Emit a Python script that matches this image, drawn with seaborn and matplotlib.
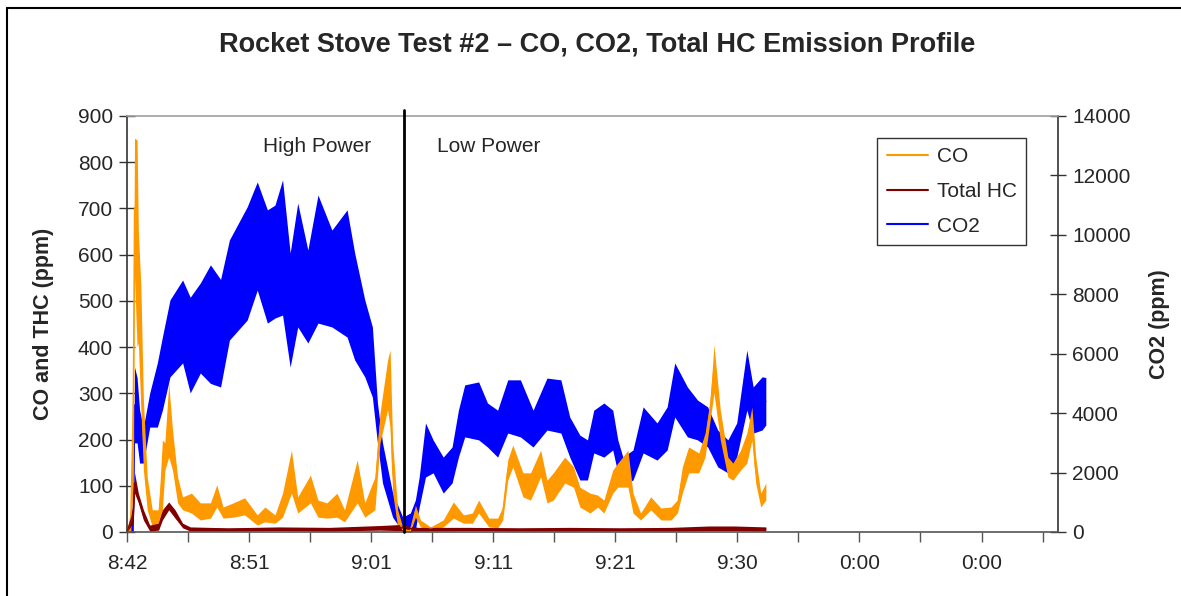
import numpy as np
import pandas as pd
import matplotlib
matplotlib.use('Agg')
import matplotlib.pyplot as plt
from matplotlib.lines import Line2D
import seaborn as sns

# time in minutes after 8:42, envelope (low / high) of each trace
co2_t = [0, 0.3, 0.5, 0.6, 0.8, 1.0, 1.3, 1.8, 2.4, 2.8, 3.4, 4.4, 5.0, 5.8, 6.6,
         7.4, 8.1, 9.5, 10.3, 11.1, 11.7, 12.3, 12.9, 13.5, 14.3, 15.1, 16.2, 17.4, 18.0, 18.8,
         19.4, 19.8, 20.2, 21.0, 21.8, 22.4, 22.8, 23.1, 23.6, 24.2, 25.0, 25.7, 26.2, 26.7, 27.8,
         28.5, 29.3, 30.1, 31.1, 32.1, 33.2, 34.3, 35.0, 35.8, 36.4, 36.9, 37.7, 38.4, 38.8, 39.2,
         40.0, 40.8, 41.9, 42.7, 43.3, 44.3, 45.1, 45.9, 46.7, 47.5, 48.2, 49.0, 49.5, 50.2, 50.5]
co2_hi = [0, 300, 1000, 5550, 5200, 4100, 3530, 4680, 5690, 6560, 7810, 8480, 7900, 8380, 8990,
          8500, 9830, 10940, 11780, 10840, 11000, 11850, 9390, 11070, 9490, 11340, 10160, 10840, 9390, 7810,
          6900, 4340, 3000, 1310, 500, 640, 1080, 1850, 3670, 3100, 2520, 2860, 4100, 4950, 5050,
          4340, 4100, 5120, 5120, 4100, 5180, 5120, 3870, 3260, 3100, 4100, 4340, 4100, 3100, 2520,
          2760, 4210, 3670, 4210, 5690, 4880, 4440, 4210, 3430, 3100, 3670, 6120, 4880, 5220, 5200]
co2_lo = [0, 0, 0, 3000, 3000, 2320, 2320, 3530, 3530, 4100, 5220, 5690, 4680, 5350, 5000,
          4880, 6460, 7130, 8140, 7030, 7200, 7300, 5550, 6900, 6360, 7030, 6900, 6560, 5790, 5220,
          4540, 3000, 1650, 500, 0, 0, 70, 840, 1850, 1990, 1310, 1650, 2520, 3200, 3100,
          2860, 2520, 3330, 3200, 2860, 3430, 3330, 2520, 1750, 1750, 2660, 2520, 2760, 1990, 1580,
          1750, 2660, 2420, 2760, 3870, 3200, 3100, 2860, 2190, 1990, 2520, 4100, 3330, 3430, 3600]

co_t = [0, 0.3, 0.5, 0.6, 0.8, 0.9, 1.1, 1.3, 1.6, 2.0, 2.5, 2.8, 3.0, 3.3, 3.6,
        4.0, 4.4, 5.1, 5.8, 6.6, 7.1, 7.6, 8.4, 9.3, 10.3, 10.9, 11.7, 12.3, 13.0, 13.5,
        14.5, 15.1, 15.8, 16.6, 17.2, 18.2, 18.8, 19.6, 20.0, 20.6, 20.8, 21.0, 21.4, 21.8, 22.4,
        22.8, 23.2, 24.0, 25.0, 25.8, 26.6, 27.3, 27.8, 28.6, 29.3, 29.7, 30.1, 30.5, 31.3, 31.9,
        32.7, 33.2, 33.7, 34.6, 35.3, 35.8, 36.6, 37.2, 37.7, 38.4, 38.8, 39.6, 40.0, 40.6, 41.4,
        42.2, 43.0, 43.5, 43.9, 44.4, 45.2, 45.7, 46.1, 46.4, 46.9, 47.5, 47.9, 48.5, 49.0, 49.4,
        49.7, 50.1, 50.5]
co_hi = [0, 50, 437, 852, 848, 653, 530, 286, 119, 48, 48, 199, 193, 322, 221,
         119, 76, 84, 63, 63, 102, 54, 63, 74, 37, 54, 37, 84, 177, 76,
         123, 69, 63, 84, 48, 156, 63, 119, 257, 372, 394, 193, 48, 10, 5,
         58, 26, 11, 26, 65, 37, 41, 69, 30, 30, 54, 156, 188, 128, 128,
         177, 112, 128, 162, 141, 97, 84, 80, 69, 134, 149, 177, 84, 41, 76,
         52, 54, 69, 141, 184, 171, 214, 286, 405, 264, 162, 149, 177, 214, 270,
         162, 84, 106]
co_lo = [0, 0, 100, 552, 400, 409, 264, 134, 48, 11, 11, 48, 134, 162, 134,
         63, 48, 41, 26, 30, 54, 30, 32, 37, 15, 22, 19, 32, 84, 41,
         63, 32, 30, 32, 22, 63, 32, 48, 193, 264, 227, 84, 11, 0, 0,
         32, 11, 4, 11, 30, 19, 19, 41, 11, 9, 26, 112, 141, 76, 69,
         119, 63, 69, 106, 97, 54, 41, 54, 41, 84, 97, 97, 41, 26, 48,
         26, 26, 41, 84, 128, 128, 162, 242, 301, 199, 119, 112, 134, 149, 199,
         106, 54, 69]

thc_t = [0, 0.5, 0.6, 0.9, 1.3, 1.8, 2.5, 2.8, 3.3, 3.8, 4.4, 5.0, 8.0, 12.0, 16.0,
         20.0, 21.5, 23.0, 27.0, 31.0, 35.0, 39.0, 43.0, 46.0, 48.0, 50.5]
thc_hi = [0, 60, 128, 84, 48, 15, 19, 48, 65, 48, 19, 11, 9, 11, 10,
          14, 16, 10, 10, 9, 10, 9, 10, 13, 13, 11]
thc_lo = [0, 20, 84, 63, 26, 2, 4, 26, 48, 30, 9, 2, 2, 3, 2,
          4, 3, 2, 3, 2, 2, 2, 2, 3, 3, 2]

tick_labels = ['8:42', '8:51', '9:01', '9:11', '9:21', '9:30', '0:00', '0:00']
tick_step = 9.65      # minutes between labelled ticks
x_max = 73.6
switch_t = 21.9       # high -> low power

colors = {'CO': '#FF9900', 'Total HC': '#800000', 'CO2': '#0000FF'}


def long_frame(name, t, lo, hi):
    return pd.concat([pd.DataFrame({'t': t, 'value': lo, 'series': name}),
                      pd.DataFrame({'t': t, 'value': hi, 'series': name})], ignore_index=True)


left_df = pd.concat([long_frame('CO', co_t, co_lo, co_hi),
                     long_frame('Total HC', thc_t, thc_lo, thc_hi)], ignore_index=True)
right_df = long_frame('CO2', co2_t, co2_lo, co2_hi)

sns.set_theme(style='white')
plt.rcParams['font.family'] = ['Liberation Sans', 'DejaVu Sans']

fig = plt.figure(figsize=(11.81, 5.96), dpi=100)
ax = fig.add_axes([0.1075, 0.1074, 0.7884, 0.698])
ax2 = ax.twinx()
ax.set_zorder(ax2.get_zorder() + 1)
ax.patch.set_visible(False)

# min-max band of each trace (pi 100 over low/high envelope)
sns.lineplot(data=right_df, x='t', y='value', color=colors['CO2'], errorbar=('pi', 100),
             err_kws={'alpha': 1, 'linewidth': 0}, lw=1.0, ax=ax2, legend=False)
sns.lineplot(data=left_df, x='t', y='value', hue='series', hue_order=['CO', 'Total HC'],
             palette=colors, errorbar=('pi', 100), err_kws={'alpha': 1, 'linewidth': 0},
             lw=1.0, ax=ax, legend=False)

ax.set_xlim(0, x_max)
ax.set_ylim(0, 900)
ax2.set_ylim(0, 14000)
ax.set_yticks(np.arange(0, 901, 100))
ax2.set_yticks(np.arange(0, 14001, 2000))
major = np.arange(len(tick_labels)) * tick_step
ax.set_xticks(major)
ax.set_xticklabels(tick_labels)
ax.set_xticks(major + tick_step / 2, minor=True)

ax.tick_params(axis='y', direction='inout', length=12, width=1, color='#333333', labelsize=15, pad=4,
               left=True)
ax2.tick_params(axis='y', direction='inout', length=12, width=1, color='#333333', labelsize=15, pad=4,
                right=True)
ax.tick_params(axis='x', which='both', direction='out', length=7, width=1, color='#555555',
               labelsize=15, pad=9, bottom=True)

ax.set_xlabel('')
ax.set_ylabel('CO and THC (ppm)', fontsize=15.5, fontweight='bold')
ax2.set_ylabel('CO2 (ppm)', fontsize=15.5, fontweight='bold', rotation=90)
ax.yaxis.set_label_coords(-0.0785, 0.5)
ax2.yaxis.set_label_coords(1.098, 0.5)

for s in ['top', 'right', 'bottom', 'left']:
    ax2.spines[s].set_visible(s == 'right')
ax.spines['right'].set_visible(False)
ax.spines['top'].set_color('#a0a0a0')
ax.spines['left'].set_color('#333333')
ax.spines['bottom'].set_color('#555555')
ax2.spines['right'].set_color('#333333')
for s in ['top', 'left', 'bottom']:
    ax.spines[s].set_linewidth(1.2)
ax2.spines['right'].set_linewidth(1.2)

ax.axvline(switch_t, ymin=0, ymax=1.015, color='black', lw=2, clip_on=False, zorder=5)
ax.text(15.0, 833, 'High Power', fontsize=15, ha='center', va='center')
ax.text(28.6, 833, 'Low Power', fontsize=15, ha='center', va='center')

handles = [Line2D([], [], color=colors[k], lw=1.5) for k in ['CO', 'Total HC', 'CO2']]
leg = ax.legend(handles, ['CO', 'Total HC', 'CO2'], loc='upper right',
                bbox_to_anchor=(0.9656, 0.947), borderaxespad=0, fontsize=15,
                handlelength=2.0, handletextpad=0.4, labelspacing=0.75,
                frameon=True, fancybox=False, edgecolor='#333333', framealpha=1,
                borderpad=0.45)
leg.get_frame().set_linewidth(1.0)

fig.suptitle('Rocket Stove Test #2 \u2013 CO, CO2, Total HC Emission Profile',
             fontsize=19.5, fontweight='bold', x=0.506, y=0.925, va='center')

# chart frame (cropped on right and bottom)
fig.add_artist(Line2D([7 / 1181, 7 / 1181], [0, 1 - 8 / 596], color='black', lw=1.5,
                      transform=fig.transFigure))
fig.add_artist(Line2D([7 / 1181, 1], [1 - 8 / 596, 1 - 8 / 596], color='black', lw=1.5,
                      transform=fig.transFigure))

fig.savefig('out.png', dpi=100, facecolor='white')
